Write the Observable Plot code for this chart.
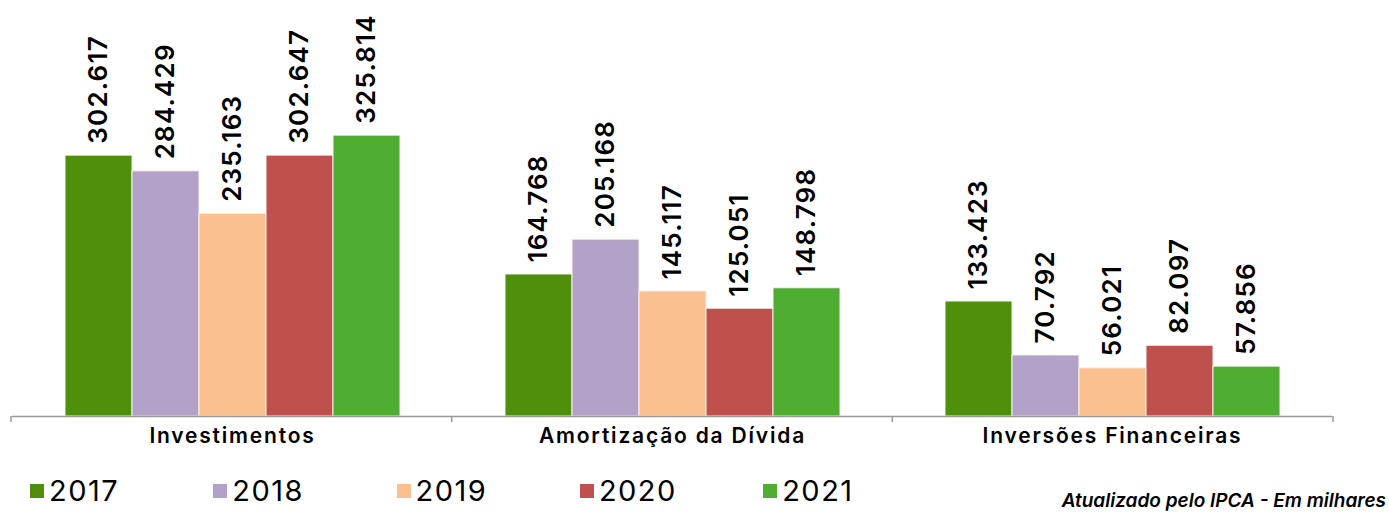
<!DOCTYPE html>
<html>
<head>
<meta charset="utf-8">
<script src="https://cdn.jsdelivr.net/npm/d3@7"></script>
<script src="https://cdn.jsdelivr.net/npm/@observablehq/plot@0.6"></script>
<style>
  html, body { margin: 0; padding: 0; background: #fff; }
  body { width: 1389px; height: 512px; overflow: hidden; position: relative; font-family: "Open Sans", sans-serif; }
  #legend { position: absolute; left: 0; top: 473px; height: 40px; width: 900px; }
  .item { position: absolute; top: 0; display: flex; align-items: center; font-family: Inter, sans-serif; font-size: 29px; color: #000; letter-spacing: 1.5px; }
  .sw { width: 14px; height: 14px; margin-right: 5px; }
  #caption { position: absolute; right: 3px; top: 489px; font-family: Inter, sans-serif; font-size: 19px; font-style: italic; font-weight: 600; color: #000; }
</style>
</head>
<body>
<div id="chart"></div>
<div id="legend"></div>
<div id="caption">Atualizado pelo IPCA - Em milhares</div>
<script>
const categories = ["Investimentos", "Amortização da Dívida", "Inversões Financeiras"];
const years = ["2017", "2018", "2019", "2020", "2021"];
const colors = ["#4F8F0B", "#B2A2C7", "#FAC090", "#C0504D", "#4FAD32"];
const v2017 = [302617, 164768, 133423];
const v2018 = [284429, 205168, 70792];
const v2019 = [235163, 145117, 56021];
const v2020 = [302647, 125051, 82097];
const v2021 = [325814, 148798, 57856];

const series = [v2017, v2018, v2019, v2020, v2021];
const data = [];
categories.forEach((c, i) => years.forEach((y, j) => data.push({cat: c, year: y, value: series[j][i]})));

const fmt = d3.formatLocale({decimal: ",", thousands: ".", grouping: [3], currency: ["R$", ""]}).format(",d");

const chart = Plot.plot({
  width: 1389,
  height: 450,
  marginLeft: 11,
  marginRight: 56,
  marginTop: 0,
  marginBottom: 34,
  style: {fontFamily: "Inter, sans-serif", background: "#fff"},
  fx: {domain: categories, padding: 0, label: null, axis: null},
  x: {domain: years, paddingInner: 0, paddingOuter: 0.74, axis: null},
  y: {domain: [0, 482.6 * 1000], axis: null},
  color: {domain: years, range: colors},
  marks: [
    Plot.barY(data, {fx: "cat", x: "year", y: "value", fill: "year", stroke: "#f4f4ee", strokeWidth: 1}),
    Plot.text(data, {fx: "cat", x: "year", y: "value", text: d => fmt(d.value), rotate: -90, textAnchor: "start", dy: -12, fontSize: 26, fontWeight: 600, fill: "#000"}),
    Plot.ruleY([0], {stroke: "#999", strokeWidth: 1.5}),
    Plot.text(categories, {fx: d => d, frameAnchor: "bottom", dy: 26, text: d => d, fontSize: 21, fontWeight: 600, fill: "#000"})
  ]
});
document.getElementById("chart").appendChild(chart);

// group boundary ticks
const svg = d3.select(chart);
const xb = [11, 451.7, 892.3, 1333];
svg.append("g").selectAll("line").data(xb).join("line")
  .attr("x1", d => d).attr("x2", d => d).attr("y1", 416).attr("y2", 422)
  .attr("stroke", "#999").attr("stroke-width", 1.5);
svg.selectAll("text").filter(function() { return this.textContent && categories.includes(this.textContent); })
  .style("letter-spacing", "1.8px");
svg.selectAll("text").filter(function() { return this.textContent && /^\d+\.\d{3}$/.test(this.textContent); })
  .style("letter-spacing", "1.2px");

const legend = d3.select("#legend");
years.forEach((y, i) => {
  const it = legend.append("div").attr("class", "item").style("left", (30 + i * 183.3) + "px");
  it.append("div").attr("class", "sw").style("background", colors[i]);
  it.append("span").text(y);
});
</script>
</body>
</html>
